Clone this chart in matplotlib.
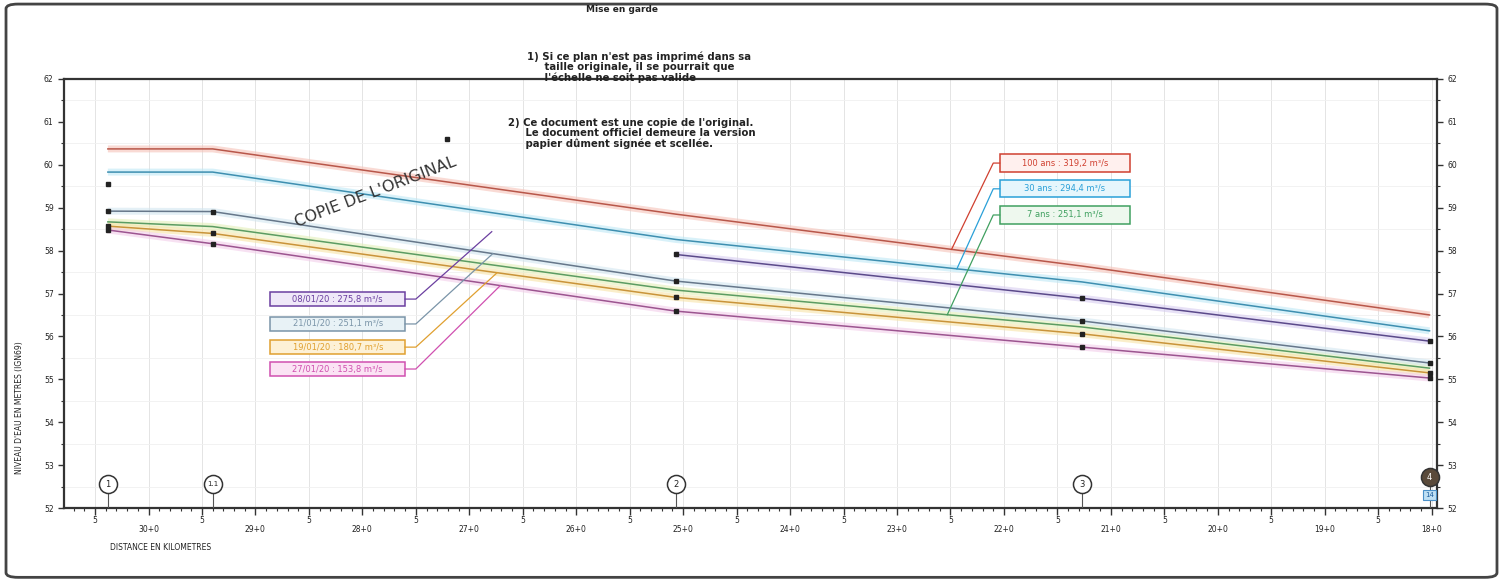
import numpy as np
import matplotlib.pyplot as plt
from matplotlib.patches import Rectangle, FancyBboxPatch

# stations along the river (km) and their labels
stations_km = [30.38, 29.40, 25.07, 21.27, 18.02]
station_ids = ["1", "1.1", "2", "3", "4"]

# design floods (lines only)
lvl_100ans = [60.37, 60.37, 58.85, 57.64, 56.50]
lvl_30ans = [59.83, 59.83, 58.26, 57.27, 56.13]
lvl_7ans = [58.67, 58.56, 57.08, 56.22, 55.26]

# observed events (lines + measured points)
lvl_0801 = [59.55, np.nan, 57.91, 56.89, 55.89]
lvl_2101 = [58.92, 58.91, 57.29, 56.36, 55.38]
lvl_1901 = [58.57, 58.40, 56.91, 56.06, 55.15]
lvl_2701 = [58.48, 58.16, 56.59, 55.75, 55.03]

# lone survey point
stray_km = [27.21]
stray_lvl = [60.60]

labels_design = ["100 ans : 319,2 m³/s", "30 ans : 294,4 m³/s", "7 ans : 251,1 m³/s"]
labels_events = ["08/01/20 : 275,8 m³/s", "21/01/20 : 251,1 m³/s",
                 "19/01/20 : 180,7 m³/s", "27/01/20 : 153,8 m³/s"]


def level_at(km, lvl):
    """water level at km, interpolated between the stations that have data"""
    x = np.array(stations_km)
    y = np.array(lvl, dtype=float)
    ok = ~np.isnan(y)
    return np.interp(km, x[ok][::-1], y[ok][::-1])


fig = plt.figure(figsize=(15.03, 5.82), dpi=100)
ax = fig.add_axes([0.0426, 0.1271, 0.9135, 0.7372])

design = [(lvl_100ans, "#b8574a", "#f5c2b8"),
          (lvl_30ans, "#3e8fb0", "#bfe8f5"),
          (lvl_7ans, "#5c9c62", "#e3efb8")]
events = [(lvl_0801, "#5b4a8a", "#d8cdf0"),
          (lvl_2101, "#66778a", "#d3e6f0"),
          (lvl_1901, "#c9943a", "#f8e4a8"),
          (lvl_2701, "#9c5590", "#f3cdea")]

for lvl, core, halo in design + events:
    ax.plot(stations_km, lvl, color=halo, lw=5, alpha=0.6, solid_capstyle="butt", zorder=2)
    ax.plot(stations_km, lvl, color=core, lw=1.1, zorder=3)

for lvl, core, halo in events:
    ax.plot(stations_km, lvl, ls="none", marker="s", ms=3, color="#222222", zorder=4)
ax.plot(stray_km, stray_lvl, ls="none", marker="s", ms=3, color="#222222", zorder=4)

# axes, ticks, grid
ax.set_xlim(30.79, 17.95)
ax.set_ylim(52, 62)
halves = np.arange(18.0, 30.51, 0.5)
xt_labels = []
for v in halves:
    if abs(v - round(v)) < 1e-6:
        xt_labels.append("\n%d+0" % round(v))
    else:
        xt_labels.append("5")
ax.set_xticks(halves)
ax.set_xticklabels(xt_labels, linespacing=1.0)
ax.set_xticks(np.arange(18.0, 30.71, 0.1), minor=True)
ax.set_yticks(np.arange(52, 62.1, 1))
ax.set_yticks(np.arange(52, 62.1, 0.5), minor=True)
ax.tick_params(axis="both", which="major", labelsize=5.5, labelcolor="#222222", length=4, width=1.0, color="#333333")
ax.tick_params(axis="x", which="major", length=5, pad=1)
ax.tick_params(axis="both", which="minor", length=2.5, width=0.8, color="#333333")
ax.tick_params(axis="y", right=True, labelright=True, which="both")
ax.grid(True, which="major", axis="x", color="#e4e4e4", lw=0.7)
ax.grid(True, which="minor", axis="y", color="#f0f0f0", lw=0.6)
for s in ax.spines.values():
    s.set_linewidth(1.6)
    s.set_color("#333333")

ax.text(0.0335, -0.093, "DISTANCE EN KILOMETRES", transform=ax.transAxes, fontsize=5.5,
        color="#222222", ha="left", va="center")
fig.text(0.013, 0.30, "NIVEAU D'EAU EN METRES (IGN69)", rotation=90, fontsize=5.5,
         color="#222222", ha="center", va="center")

# station markers along the bottom
for i, (km, sid) in enumerate(zip(stations_km, station_ids)):
    last = i == len(stations_km) - 1
    cy = 52.72 if last else 52.56
    ax.plot([km, km], [52, cy - 0.15], color="#555555", lw=0.8, zorder=3)
    ax.plot([km], [cy], marker="o", ms=13, mfc="#5a4a3a" if last else "white",
            mec="#333333", mew=1.1, zorder=5, clip_on=False)
    ax.text(km, cy, sid, fontsize=5 if len(sid) > 1 else 6, ha="center", va="center",
            color="white" if last else "#222222", zorder=6)
    if last:
        ax.text(km, 52.3, "14", fontsize=5, ha="center", va="center", color="#1f5f9f", zorder=6,
                bbox=dict(boxstyle="square,pad=0.3", fc="#bfe0f4", ec="#4a90c8", lw=0.8))

# event label boxes (left) with leader lines
ev_box_y = [56.87, 56.29, 55.75, 55.24]
ev_target_km = [26.79, 26.78, 26.74, 26.71]
ev_colors = [("#6b3fa0", "#efe8f8"), ("#7a94a8", "#e8f2f6"),
             ("#e0a030", "#fdf1d6"), ("#d050b0", "#fbe3f4")]
for (lvl, core, halo), lab, yc, tk, (ec, fc) in zip(events, labels_events, ev_box_y, ev_target_km, ev_colors):
    ax.add_patch(Rectangle((28.86, yc - 0.165), -1.26, 0.33, fc=fc, ec=ec, lw=1.1, zorder=5))
    ax.text(28.23, yc, lab, fontsize=6, ha="center", va="center", color=ec, zorder=6)
    ty = level_at(tk, lvl)
    ax.plot([27.60, 27.50, tk], [yc, yc, ty], color=ec, lw=0.9, zorder=5)

# design flood label boxes (right) with leader lines
ds_box_y = [60.04, 59.44, 58.83]
ds_target_km = [22.49, 22.44, 22.53]
ds_colors = [("#d04030", "#fff0ee"), ("#2aa0d8", "#e6f6fc"), ("#40a060", "#eef8ee")]
for (lvl, core, halo), lab, yc, tk, (ec, fc) in zip(design, labels_design, ds_box_y, ds_target_km, ds_colors):
    ax.add_patch(Rectangle((22.04, yc - 0.2), -1.22, 0.40, fc=fc, ec=ec, lw=1.1, zorder=5))
    ax.text(21.43, yc, lab, fontsize=6, ha="center", va="center", color=ec, zorder=6)
    ty = level_at(tk, lvl)
    ax.plot([22.04, 22.10, tk], [yc, yc, ty], color=ec, lw=0.9, zorder=5)

ax.text(27.88, 59.37, "COPIE DE L'ORIGINAL", rotation=21, fontsize=11.5, color="#333333",
        ha="center", va="center", zorder=6)

# notes and frame
fig.text(622 / 1503, 1 - 10 / 582, "Mise en garde", fontsize=6.5, fontweight="bold",
         ha="center", va="center", color="#222222")
fig.text(527 / 1503, 1 - 51 / 582,
         "1) Si ce plan n'est pas imprimé dans sa\n     taille originale, il se pourrait que\n     l'échelle ne soit pas valide",
         fontsize=7.3, fontweight="bold", ha="left", va="top", color="#222222", linespacing=1.05)
fig.text(508 / 1503, 1 - 118 / 582,
         "2) Ce document est une copie de l'original.\n     Le document officiel demeure la version\n     papier dûment signée et scellée.",
         fontsize=7.3, fontweight="bold", ha="left", va="top", color="#222222", linespacing=1.05)

frame = FancyBboxPatch((0.004, 0.008), 0.992, 0.985, boxstyle="round,pad=0,rounding_size=0.008",
                       transform=fig.transFigure, fc="none", ec="#444444", lw=2.0)
fig.add_artist(frame)

fig.savefig("out.png", dpi=100)
